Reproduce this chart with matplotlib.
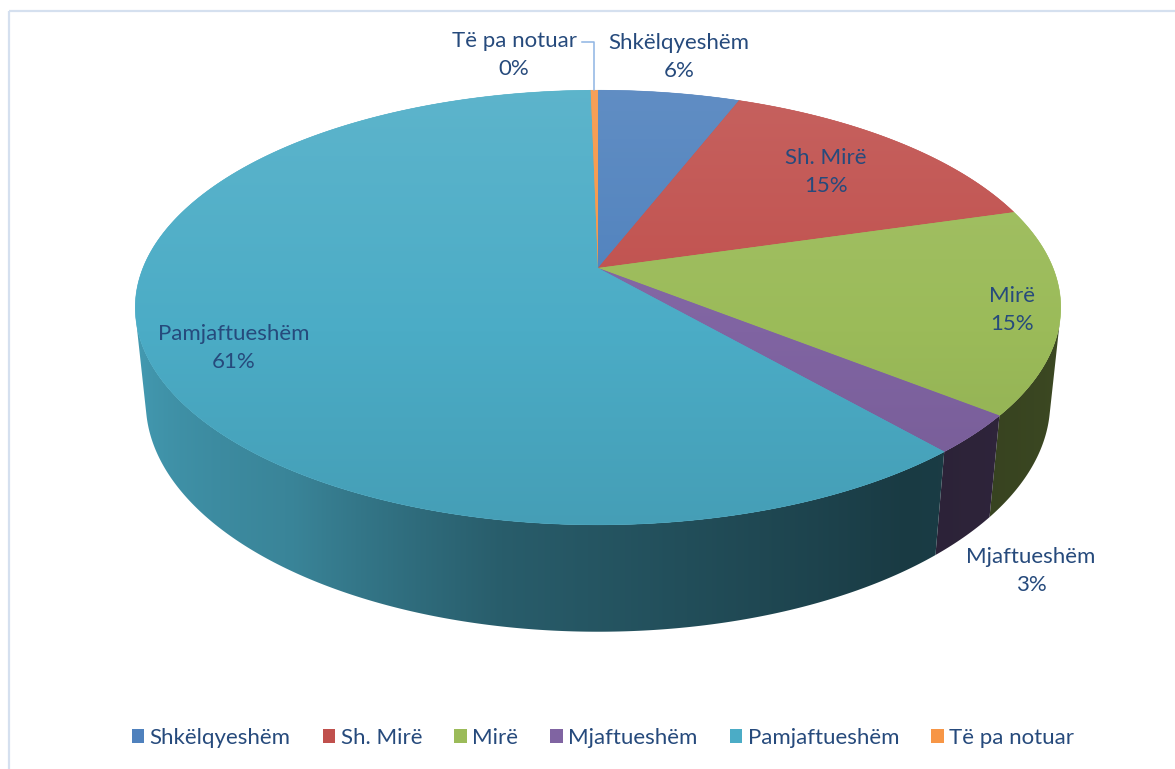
import numpy as np
import matplotlib
matplotlib.use('Agg')
import matplotlib.pyplot as plt
from matplotlib.patches import Polygon, Rectangle, Patch
from matplotlib.colors import to_rgb

# ---------------- data ----------------
categories = ['Shkëlqyeshëm', 'Sh. Mirë', 'Mirë', 'Mjaftueshëm', 'Pamjaftueshëm', 'Të pa notuar']
values = [5.9, 14.6, 15.2, 2.9, 61.1, 0.3]
colors = ['#4F81BD', '#C0504D', '#9BBB59', '#8064A2', '#4BACC6', '#F79646']

# label anchor positions (pixels, layout only)
label_pos = [(679, 57), (826, 172), (1012, 310), (1031, 571), (234, 348), (514, 55)]

TEXT_COLOR = '#264A7C'
FONT = 'Lato'
FS = 16

W, H = 1175, 769
fig = plt.figure(figsize=(W / 100, H / 100), dpi=100)
ax = fig.add_axes([0, 0, 1, 1])
ax.set_xlim(0, W)
ax.set_ylim(H, 0)
ax.axis('off')

# frame
ax.add_patch(Rectangle((8.5, 10.5), 1300, 900, fill=False, edgecolor='#D5E0EF', lw=1.6, zorder=0))

# ---------------- 3D perspective camera ----------------
CX, CY = 598, 268
PHI = np.radians(27.5)
DIST = 4.878
FOC = 2219.5
THICK = 0.237


def proj(X, Y, Z):
    depth = Y * np.cos(PHI) + DIST - Z * np.sin(PHI)
    v = Y * np.sin(PHI) + Z * np.cos(PHI)
    return CX + FOC * X / depth, CY - FOC * v / depth


def shade(c, t):
    c = np.array(to_rgb(c))
    return tuple(np.clip(c + (1 - c) * t, 0, 1)) if t >= 0 else tuple(np.clip(c * (1 + t), 0, 1))


# wall shading (brightness factor by angle, degrees clockwise from 12 o'clock)
SH_ANG = [60, 100, 145, 170, 190, 215, 255, 300]
SH_FAC = [0.40, 0.40, 0.34, 0.45, 0.54, 0.77, 0.90, 0.90]

total = sum(values)
bounds = np.concatenate([[0], np.cumsum(values)]) / total * 2 * np.pi  # clockwise from 12 o'clock

# silhouette generators of the cylinder as seen from the camera
tang = np.arccos(-1.0 / (DIST * np.cos(PHI)))
lo, hi = tang, 2 * np.pi - tang

# mapping x -> shading factor along the front arc
ts_front = np.linspace(lo, hi, 600)
xf, _ = proj(np.sin(ts_front), np.cos(ts_front), np.zeros_like(ts_front))
ff = np.interp(np.degrees(ts_front), SH_ANG, SH_FAC)
order = np.argsort(xf)
xf, ff = xf[order], ff[order]

# ---------------- side walls ----------------
for i, (a0, a1) in enumerate(zip(bounds[:-1], bounds[1:])):
    b0, b1 = max(a0, lo), min(a1, hi)
    if b1 <= b0:
        continue
    ts = np.linspace(b0, b1, max(4, int(np.degrees(b1 - b0) * 2)))
    xt, yt = proj(np.sin(ts), np.cos(ts), np.zeros_like(ts))
    xb, yb = proj(np.sin(ts[::-1]), np.cos(ts[::-1]), -THICK * np.ones_like(ts))
    pts = np.column_stack([np.concatenate([xt, xb]), np.concatenate([yt, yb])])
    base = np.array(to_rgb(colors[i]))
    poly = Polygon(pts, closed=True, facecolor='none', edgecolor='none', zorder=2)
    ax.add_patch(poly)
    x0, x1 = pts[:, 0].min() - 2, pts[:, 0].max() + 2
    xg = np.linspace(x0, x1, 400)
    fac = np.interp(xg, xf, ff)
    img = (base[None, :] * fac[:, None]).reshape(1, -1, 3)
    im = ax.imshow(img, extent=[x0, x1, pts[:, 1].max() + 2, pts[:, 1].min() - 2],
                   origin='upper', aspect='auto', zorder=2, interpolation='bilinear')
    im.set_clip_path(poly)

# ---------------- top faces with vertical gradient ----------------
ngrad = 256
ytop_face = proj(0, 1, 0)[1]
ybot_face = proj(0, -1, 0)[1]
for i, (a0, a1) in enumerate(zip(bounds[:-1], bounds[1:])):
    n = max(4, int(np.degrees(a1 - a0) * 2))
    ts = np.linspace(a0, a1, n + 1)
    xs, ys = proj(np.sin(ts), np.cos(ts), np.zeros_like(ts))
    cx0, cy0 = proj(0.0, 0.0, 0.0)
    pts = np.column_stack([np.concatenate([[cx0], xs]), np.concatenate([[cy0], ys])])
    poly = Polygon(pts, closed=True, facecolor=colors[i], edgecolor=colors[i], lw=0.4, zorder=3)
    ax.add_patch(poly)
    tvals = np.linspace(0.10, -0.08, ngrad)
    grad = np.array([shade(colors[i], t) for t in tvals]).reshape(ngrad, 1, 3)
    im = ax.imshow(grad, extent=[pts[:, 0].min() - 2, pts[:, 0].max() + 2, ybot_face + 2, ytop_face - 2],
                   origin='upper', aspect='auto', zorder=3.5, interpolation='bilinear')
    im.set_clip_path(poly)

ax.set_xlim(0, W)
ax.set_ylim(H, 0)

# ---------------- data labels ----------------
for i, (cat, v) in enumerate(zip(categories, values)):
    x, y = label_pos[i]
    ax.text(x, y, f'{cat}\n{round(v)}%', ha='center', va='center', color=TEXT_COLOR,
            fontsize=FS, family=FONT, linespacing=1.55, zorder=6)

# leader line for the tiny slice
mid = 0.5 * (bounds[-2] + bounds[-1])
lx, ly = proj(np.sin(mid), np.cos(mid), 0.0)
ax.plot([582, lx, lx], [42, 42, ly], color='#8EB4E3', lw=1.1, zorder=6)

# ---------------- legend ----------------
handles = [Patch(facecolor=c, edgecolor='none') for c in colors]
leg = fig.legend(handles, categories, loc='center', bbox_to_anchor=(603 / W, 1 - 738 / H), ncol=6,
                 frameon=False, handlelength=0.55, handleheight=0.55, handletextpad=0.25,
                 columnspacing=1.45, prop={'family': FONT, 'size': FS})
for t in leg.get_texts():
    t.set_color(TEXT_COLOR)

fig.savefig('out.png', dpi=100, facecolor='white')
